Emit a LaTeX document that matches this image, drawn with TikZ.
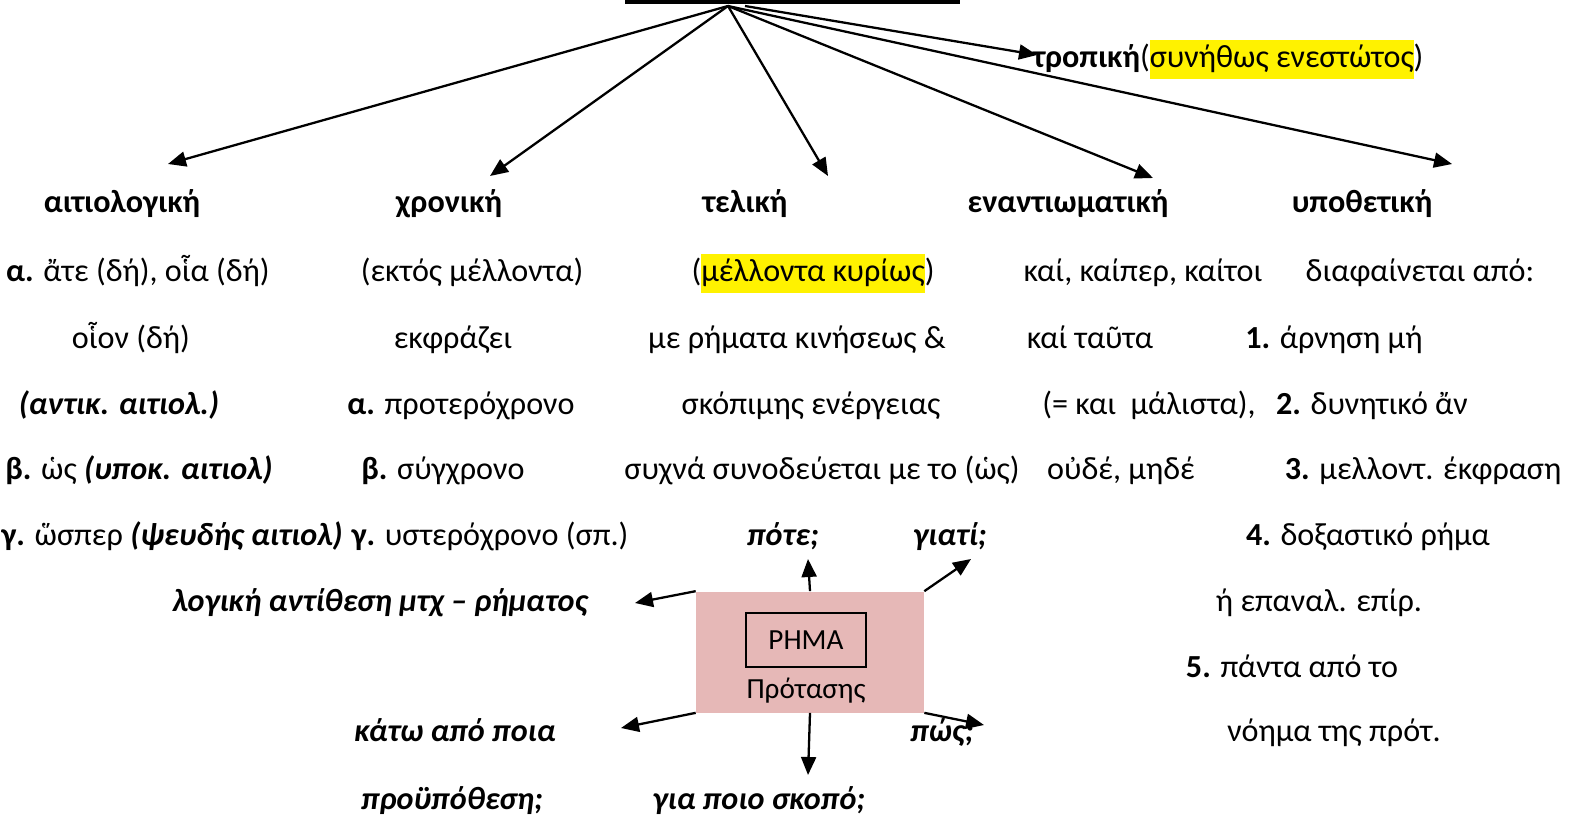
\documentclass[tikz,border=0pt]{standalone}
\usepackage{fontspec}
\setmainfont{Carlito}
\usetikzlibrary{arrows.meta}

\definecolor{rosebox}{RGB}{230,184,183}
\newcommand{\sz}{\fontsize{18.3}{22}\selectfont}
\newcommand{\hl}[1]{{\setlength{\fboxsep}{0pt}\colorbox{yellow}{\strut#1}}}

\begin{document}
\begin{tikzpicture}[
  x=0.02cm, y=-0.02cm,
  >={Triangle[length=0.36cm,width=0.3cm]},
  every node/.style={inner sep=0pt, anchor=base, font=\sz},
  head/.style={font=\sz\bfseries},
  ask/.style={font=\sz\bfseries\itshape},
  link/.style={->, line width=1.3pt}
  ]
\useasboundingbox (0,0) rectangle (1577,818);
\fill (625,0) rectangle (960,4);
\coordinate (hub) at (728,6);
\coordinate (tropStart) at (745,6);

\node [head] (aitiol) at (122,212) {αιτιολογική};
\node [head] (xron) at (449,212) {χρονική};
\node [head] (telik) at (745,212) {τελική};
\node [head] (enant) at (1068,212) {εναντιωματική};
\node [head] (ypoth) at (1362,212) {υποθετική};
\node (tropik) at (1228,67) {\textbf{τροπική}(\hl{συνήθως ενεστώτος})};

\coordinate (aitTip) at (168,164);
\coordinate (xronTip) at (490,176);
\coordinate (telTip) at (828,176);
\coordinate (enantTip) at (1153,178);
\coordinate (ypothTip) at (1452,164);
\coordinate (tropTip) at (1037,55);
\draw [link] (hub) -- (aitTip);
\draw [link] (hub) -- (xronTip);
\draw [link] (hub) -- (telTip);
\draw [link] (hub) -- (enantTip);
\draw [link] (hub) -- (ypothTip);
\draw [link] (tropStart) -- (tropTip);

\node (aitA) at (138,281) {\textbf{α.} ἄτε (δή), οἷα (δή)};
\node (xronA) at (472,281) {(εκτός μέλλοντα)};
\node (telA) at (813,281) {(\hl{μέλλοντα κυρίως})};
\node (enantA) at (1143,281) {καί, καίπερ, καίτοι};
\node (ypothA) at (1420,281) {διαφαίνεται από:};

\node (aitB) at (131,348) {οἷον (δή)};
\node (xronB) at (453,348) {εκφράζει};
\node (telB) at (797,348) {με ρήματα κινήσεως \&};
\node (enantB) at (1090,348) {καί ταῦτα};
\node (ypothB) at (1334,348) {\textbf{1.} άρνηση μή};

\node [ask] (aitC) at (119,414) {(αντικ. αιτιολ.)};
\node (xronC) at (461,414) {\textbf{α.} προτερόχρονο};
\node (telC) at (811,414) {σκόπιμης ενέργειας};
\node (enantC) at (1149,414) {(= και\ \ μάλιστα),};
\node (ypothC) at (1372,414) {\textbf{2.} δυνητικό ἄν};

\node (aitD) at (139,479) {\textbf{β.} ὡς \textbf{\textit{(υποκ. αιτιολ)}}};
\node (xronD) at (443,479) {\textbf{β.} σύγχρονο};
\node (telD) at (822,479) {συχνά συνοδεύεται με το (ὡς)};
\node (enantD) at (1121,479) {οὐδέ, μηδέ};
\node (ypothD) at (1423,479) {\textbf{3.} μελλοντ. έκφραση};

\node (aitE) at (172,545) {\textbf{γ.} ὥσπερ \textbf{\textit{(ψευδής αιτιολ)}}};
\node (xronE) at (490,545) {\textbf{γ.} υστερόχρονο (σπ.)};
\node [ask] (pote) at (783,545) {πότε;};
\node [ask] (giati) at (950,545) {γιατί;};
\node (ypothE) at (1368,545) {\textbf{4.} δοξαστικό ρήμα};

\node [ask] (logiki) at (380,611) {λογική αντίθεση μτχ – ρήματος};
\node (ypothF) at (1319,611) {ή επαναλ. επίρ.};
\node (ypothG) at (1292,677) {\textbf{5.} πάντα από το};
\node [ask] (kato) at (455,741) {κάτω από ποια};
\node [ask] (pos) at (942,741) {πώς;};
\node (ypothH) at (1334,741) {νόημα της πρότ.};
\node [ask] (proyp) at (452,809) {προϋπόθεση;};
\node [ask] (skopo) at (759,809) {για ποιο σκοπό;};

\node [fill=rosebox, minimum width=4.56cm, minimum height=2.42cm, anchor=center] (prot) at (810,652) {};
\node [draw, line width=0.8pt, minimum width=2.4cm, minimum height=1.08cm, anchor=center, font=\fontsize{16.6}{19}\selectfont] (rhma) at (806,640) {ΡΗΜΑ};
\node [anchor=center, font=\fontsize{16.6}{19}\selectfont] (protLbl) at (806,691) {Πρότασης};

\coordinate (poteTip) at (808,559);
\coordinate (giatiTip) at (971,559);
\coordinate (logTip) at (635,603);
\coordinate (katoTip) at (621,728);
\coordinate (skopTip) at (808,775);
\coordinate (posTip) at (984,725);
\draw [link] (prot.north) -- (poteTip);
\draw [link] (prot.north east) -- (giatiTip);
\draw [link] (prot.north west) -- (logTip);
\draw [link] (prot.south west) -- (katoTip);
\draw [link] (prot.south) -- (skopTip);
\draw [link] (prot.south east) -- (posTip);
\end{tikzpicture}
\end{document}
